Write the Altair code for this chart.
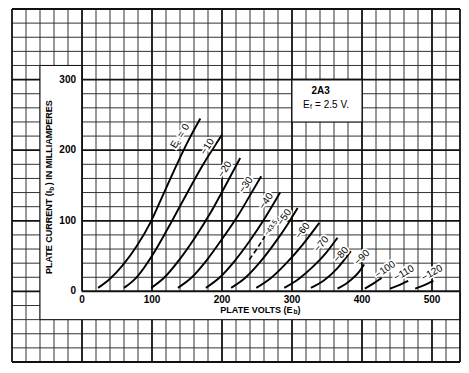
import altair as alt
import pandas as pd

# ---- data (plate volts, plate current mA) ----
CURVES = {
    "0":    [(23, 5), (40, 18), (58, 37), (78, 64), (99, 100), (115, 135), (130, 168), (149, 208), (169, 245)],
    "-10":  [(60, 5), (78, 20), (101, 52), (122, 88), (144, 128), (172, 178), (200, 222)],
    "-20":  [(99, 5), (118, 20), (140, 46), (162, 77), (184, 112), (205, 150), (226, 189)],
    "-30":  [(137, 5), (157, 20), (178, 44), (200, 74), (222, 106), (240, 136), (256, 163)],
    "-40":  [(177, 5), (197, 20), (218, 43), (240, 72), (262, 105), (283, 140)],
    "-50":  [(213, 5), (233, 19), (254, 41), (275, 68), (295, 97), (308, 118)],
    "-60":  [(249, 5), (270, 19), (292, 40), (315, 66), (339, 97)],
    "-70":  [(289, 5), (310, 18), (330, 35), (349, 55), (365, 76)],
    "-80":  [(327, 5), (345, 15), (365, 33), (384, 57)],
    "-90":  [(365, 4), (380, 13), (396, 28), (403, 38)],
    "-100": [(404, 4), (416, 11), (428, 19)],
    "-110": [(440, 4), (453, 9), (466, 15)],
    "-120": [(476, 4), (489, 9), (502, 15)],
}
DASHED_43_5 = [(239, 45), (251, 62), (263, 81)]

CURVE_LABELS = ["−10", "−20", "−30", "−40", "−43.5", "−50", "−60", "−70", "−80", "−90", "−100", "−110", "−120"]
LABEL_V = [179, 204, 234, 263, 270, 289, 315, 342, 370, 400, 433, 460, 500]
LABEL_I = [205, 173, 151, 128, 90, 105, 86, 67, 52, 48, 31, 26, 26]
LABEL_ANGLE = [302, 302, 305, 305, 305, 305, 308, 310, 312, 315, 325, 330, 330]
LABEL_SIZE = [10, 10, 10, 10, 7, 10, 10, 10, 10, 10, 10, 10, 10]

X_TICKS = [0, 100, 200, 300, 400, 500]
Y_TICKS = [0, 100, 200, 300]

W, H = 448, 353
xs = alt.Scale(domain=[-100, 540], nice=False, zero=False)
ys = alt.Scale(domain=[-100, 400], nice=False, zero=False)
FONT = "Liberation Sans"


def X(f="v"):
    return alt.X(f"{f}:Q", scale=xs, axis=None)


def Y(f="i"):
    return alt.Y(f"{f}:Q", scale=ys, axis=None)


# ---- graph-paper grid ----
vlines = list(range(-100, 541, 20))
hlines = list(range(-100, 401, 20))
vmin = pd.DataFrame({"v": [v for v in vlines if v % 100 != 0 and v != 540]})
vmaj = pd.DataFrame({"v": [v for v in vlines if v % 100 == 0 or v == 540]})
hmin = pd.DataFrame({"i": [i for i in hlines if i % 100 != 0]})
hmaj = pd.DataFrame({"i": [i for i in hlines if i % 100 == 0]})

grid = alt.layer(
    alt.Chart(vmin).mark_rule(color="#333", strokeWidth=1).encode(x=X(), y=alt.value(0), y2=alt.value(H)),
    alt.Chart(hmin).mark_rule(color="#333", strokeWidth=1).encode(y=Y(), x=alt.value(0), x2=alt.value(W)),
    alt.Chart(vmaj).mark_rule(color="#111", strokeWidth=1.8).encode(x=X(), y=alt.value(0), y2=alt.value(H)),
    alt.Chart(hmaj).mark_rule(color="#111", strokeWidth=1.8).encode(y=Y(), x=alt.value(0), x2=alt.value(W)),
)

boxes = pd.DataFrame({
    "v1": [-60, 0, 300], "v2": [0, 540, 400],
    "i1": [-40, -40, 240], "i2": [320, 0, 300],
})
white = alt.Chart(boxes).mark_rect(fill="white").encode(
    x=X("v1"), x2="v2", y=Y("i1"), y2="i2")

edges = pd.DataFrame({
    "v1": [-60, -60, -60, 0, 0, 300, 400, 300, 300, 540],
    "v2": [-60, 0, 540, 540, 0, 300, 400, 400, 400, 540],
    "i1": [-40, 320, -40, 0, 0, 240, 240, 240, 300, -40],
    "i2": [320, 320, -40, 0, 320, 300, 300, 240, 300, 0],
    "w":  [1, 1, 1, 1.8, 1.8, 1, 1, 1, 1.8, 1.8],
})
edge_rules = alt.Chart(edges).mark_rule(color="#111").encode(
    x=X("v1"), x2="v2", y=Y("i1"), y2="i2",
    strokeWidth=alt.StrokeWidth("w:Q", scale=None))

# ---- curves ----
rows = []
for ec, pts in CURVES.items():
    for k, (v, i) in enumerate(pts):
        rows.append({"ec": ec, "v": v, "i": i, "o": k})
curves_df = pd.DataFrame(rows)
curves = alt.Chart(curves_df).mark_line(color="black", strokeWidth=1.9, interpolate="monotone").encode(
    x=X(), y=Y(), detail="ec:N", order="o:Q")

dash_df = pd.DataFrame([{"v": v, "i": i, "o": k} for k, (v, i) in enumerate(DASHED_43_5)])
dashed = alt.Chart(dash_df).mark_line(color="black", strokeWidth=1.6, strokeDash=[5, 3],
                                      interpolate="monotone").encode(x=X(), y=Y(), order="o:Q")

# ---- curve labels ----
lab_df = pd.DataFrame({"t": CURVE_LABELS, "v": LABEL_V, "i": LABEL_I, "a": LABEL_ANGLE, "s": LABEL_SIZE})
ec_df = pd.DataFrame({
    "t": ["E", "c", "= 0"],
    "v": [130, 138.5, 139.5],
    "i": [204, 210.5, 219],
    "a": [302, 302, 302],
    "s": [10, 7, 10],
    "al": ["left", "center", "left"],
})


def rot_text(df, halo, align="center"):
    kw = dict(font=FONT, baseline="middle", align=align)
    if halo:
        kw.update(stroke="white", strokeWidth=3.5, color="white")
    else:
        kw.update(color="black")
    return alt.Chart(df).mark_text(**kw).encode(
        x=X(), y=Y(), text="t:N",
        angle=alt.Angle("a:Q", scale=None), size=alt.Size("s:Q", scale=None))


ec_left = ec_df[ec_df.al == "left"]
ec_mid = ec_df[ec_df.al == "center"]
labels = alt.layer(
    rot_text(lab_df, True), rot_text(ec_left, True, "left"), rot_text(ec_mid, True),
    rot_text(lab_df, False), rot_text(ec_left, False, "left"), rot_text(ec_mid, False),
)

# ---- tick labels ----
xt = pd.DataFrame({"v": X_TICKS, "i": [-12] * len(X_TICKS), "t": [str(x) for x in X_TICKS]})
yt = pd.DataFrame({"v": [-8.5] * len(Y_TICKS), "i": Y_TICKS, "t": [str(y) for y in Y_TICKS]})
xticks = alt.Chart(xt).mark_text(font=FONT, fontWeight="bold", fontSize=10, baseline="middle",
                                 align="center").encode(x=X(), y=Y(), text="t:N")
yticks = alt.Chart(yt).mark_text(font=FONT, fontWeight="bold", fontSize=10, baseline="middle",
                                 align="right").encode(x=X(), y=Y(), text="t:N")


# ---- axis titles and title box ----
def txt(t, v, i, size=9, align="center", angle=0, weight="bold"):
    d = pd.DataFrame({"t": [t], "v": [v], "i": [i]})
    return alt.Chart(d).mark_text(font=FONT, fontWeight=weight, fontSize=size, align=align,
                                  baseline="middle", angle=angle, color="black").encode(
        x=X(), y=Y(), text="t:N")


titles = alt.layer(
    txt("PLATE CURRENT (I", -47, 24.6, align="left", angle=270),
    txt("b", -43.5, 145.5, size=6.5, angle=270),
    txt(") IN MILLIAMPERES", -47, 150.5, align="left", angle=270),
    txt("PLATE VOLTS (E", 300.7, -26.3, align="right"),
    txt("b", 305, -29, size=6.5),
    txt(")", 308, -26.3, align="left"),
    txt("2A3", 341, 284, size=10),
    txt("E", 315.7, 264, size=10, align="left", weight="normal"),
    txt("f", 327, 261, size=7, weight="normal"),
    txt("= 2.5 V.", 333, 264, size=10, align="left", weight="normal"),
)

chart = alt.layer(
    grid, white, edge_rules, curves, dashed, labels, xticks, yticks, titles
).properties(
    width=W, height=H, padding={"left": 3, "top": 0, "right": 0, "bottom": 0}
).configure_view(stroke=None)

chart.save("out.html", embed_options={"renderer": "svg", "actions": False})
